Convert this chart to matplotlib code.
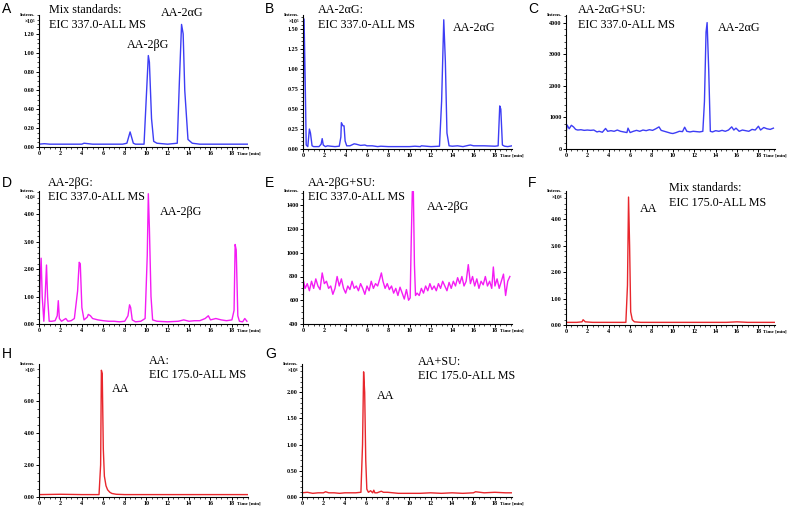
import matplotlib
matplotlib.use('Agg')
import matplotlib.pyplot as plt
from matplotlib.ticker import MultipleLocator, FormatStrFormatter

# ---- data ----
# A: mix standards, EIC 337 (x1e5)
a_t = [0, 0.5, 1, 2, 3, 4, 4.2, 5, 6, 7, 7.8, 8.2, 8.4, 8.5, 8.6, 8.8, 9, 9.8, 10.0, 10.2,
       10.3, 10.5, 10.7, 11, 12, 12.9, 13.1, 13.3, 13.45, 13.6, 13.9, 14.3, 15, 16, 17, 18, 19, 19.5]
a_v = [0.03, 0.035, 0.03, 0.03, 0.03, 0.03, 0.04, 0.03, 0.03, 0.03, 0.03, 0.04, 0.12, 0.16, 0.12, 0.04, 0.03, 0.03, 0.5, 0.97,
       0.9, 0.3, 0.06, 0.04, 0.03, 0.04, 0.7, 1.30, 1.2, 0.6, 0.08, 0.04, 0.03, 0.03, 0.03, 0.03, 0.03, 0.03]
a_ticks = [0, 0.2, 0.4, 0.6, 0.8, 1.0, 1.2]

# B: AA-2aG, EIC 337 (x1e5)
b_t = [0, 0.05, 0.1, 0.2, 0.3, 0.45, 0.6, 0.7, 0.85, 1.0, 1.5, 1.7, 1.8, 1.9, 2.1, 2.3, 2.6, 3.0, 3.4, 3.55,
       3.6, 3.75, 3.85, 3.95, 4.1, 4.4, 4.8, 5.0, 5.4, 5.8, 6.0, 6.5, 7.0, 7.3, 8, 9, 10, 10.5, 11, 11.1,
       12, 12.8, 13.0, 13.2, 13.35, 13.5, 13.7, 14, 14.5, 15, 15.5, 15.7, 16, 17, 18, 18.3, 18.45, 18.55, 18.7, 18.9,
       19.2, 19.6]
b_v = [0.05, 1.0, 1.63, 0.9, 0.05, 0.03, 0.25, 0.2, 0.04, 0.03, 0.03, 0.06, 0.13, 0.05, 0.03, 0.04, 0.035, 0.03, 0.035, 0.15,
       0.33, 0.29, 0.29, 0.1, 0.04, 0.04, 0.065, 0.06, 0.045, 0.05, 0.04, 0.04, 0.03, 0.035, 0.03, 0.03, 0.03, 0.035, 0.03, 0.04,
       0.03, 0.035, 0.6, 1.62, 1.1, 0.2, 0.04, 0.035, 0.04, 0.03, 0.045, 0.05, 0.04, 0.04, 0.035, 0.04, 0.54, 0.5, 0.05, 0.035,
       0.03, 0.04]
b_ticks = [0, 0.25, 0.5, 0.75, 1.0, 1.25, 1.5]

# C: AA-2aG + SU, EIC 337 (counts)
c_t = [0.0, 0.1, 0.3, 0.5, 0.7, 0.9, 1.1, 1.4, 1.7, 2.0, 2.3, 2.6, 2.9, 3.1, 3.4, 3.7, 3.9, 4.2, 4.5, 4.8,
       5.1, 5.4, 5.7, 5.8, 6.0, 6.3, 6.6, 6.9, 7.2, 7.5, 7.8, 8.1, 8.4, 8.7, 8.9, 9.2, 9.5, 9.8, 10.0, 10.3,
       10.6, 10.9, 11.1, 11.3, 11.6, 11.9, 12.2, 12.5, 12.8, 12.95, 13.1, 13.2, 13.35, 13.5, 13.7, 14.0, 14.3, 14.6, 14.9, 15.2,
       15.5, 15.7, 15.9, 16.2, 16.5, 16.8, 17.1, 17.4, 17.7, 18.0, 18.2, 18.5, 18.8, 19.1, 19.4]
c_v = [480, 760, 640, 750, 700, 620, 600, 610, 590, 600, 590, 600, 540, 560, 530, 650, 560, 580, 560, 600,
       560, 540, 520, 660, 520, 560, 590, 560, 600, 580, 610, 590, 640, 700, 590, 560, 530, 500, 490, 520,
       560, 550, 690, 560, 540, 560, 550, 540, 560, 1500, 3700, 4000, 2500, 560, 540, 580, 560, 590, 560, 600,
       700, 600, 660, 560, 600, 580, 560, 620, 600, 720, 600, 680, 640, 620, 660]
c_ticks = [0, 1000, 2000, 3000, 4000]

# D: AA-2bG, EIC 337 (x1e4)
d_t = [0, 0.1, 0.2, 0.3, 0.45, 0.55, 0.7, 0.8, 0.95, 1.2, 1.5, 1.7, 1.8, 1.9, 2.1, 2.5, 2.7, 3.0, 3.3, 3.6,
       3.75, 3.85, 4.0, 4.2, 4.5, 4.6, 4.8, 5.0, 5.5, 6.0, 6.5, 7.0, 7.5, 8.0, 8.3, 8.45, 8.55, 8.7, 9.0, 9.5,
       9.9, 10.1, 10.2, 10.3, 10.45, 10.6, 11, 12, 13, 13.5, 14, 14.5, 15, 15.5, 15.8, 16, 16.5, 17, 17.5, 18,
       18.2, 18.3, 18.4, 18.55, 18.7, 19.0, 19.2, 19.4]
d_v = [0.05, 1.5, 2.4, 1.0, 0.1, 0.8, 2.15, 1.0, 0.1, 0.1, 0.12, 0.3, 0.85, 0.2, 0.1, 0.2, 0.1, 0.12, 0.2, 1.2,
       2.25, 2.2, 0.6, 0.15, 0.25, 0.35, 0.3, 0.2, 0.15, 0.12, 0.1, 0.1, 0.08, 0.1, 0.3, 0.7, 0.6, 0.15, 0.08, 0.1,
       0.2, 2.5, 4.75, 3.5, 1.0, 0.15, 0.1, 0.08, 0.1, 0.15, 0.1, 0.12, 0.12, 0.2, 0.3, 0.15, 0.2, 0.15, 0.12, 0.15,
       0.5, 2.9, 2.7, 0.3, 0.1, 0.08, 0.2, 0.1]
d_ticks = [0, 1, 2, 3, 4]

# E: AA-2bG + SU, EIC 337 (counts)
e_t = [0.0, 0.05, 0.2, 0.4, 0.6, 0.8, 1.0, 1.2, 1.4, 1.6,
       1.8, 2.0, 2.2, 2.4, 2.6, 2.8, 3.0, 3.2, 3.4, 3.6,
       3.8, 4.0, 4.2, 4.4, 4.6, 4.8, 5.0, 5.2, 5.4, 5.6,
       5.8, 6.0, 6.2, 6.4, 6.6, 6.8, 7.0, 7.2, 7.35, 7.5,
       7.7, 7.9, 8.1, 8.3, 8.5, 8.7, 8.9, 9.1, 9.3, 9.5,
       9.7, 9.9, 10.05, 10.15, 10.25, 10.35, 10.45, 10.55, 10.7, 10.9,
       11.1, 11.3, 11.5, 11.7, 11.9, 12.1, 12.3, 12.5, 12.7, 12.9,
       13.1, 13.3, 13.5, 13.7, 13.9, 14.1, 14.3, 14.5, 14.7, 14.9,
       15.1, 15.3, 15.5, 15.7, 15.9, 16.1, 16.3, 16.5, 16.7, 16.9,
       17.1, 17.3, 17.5, 17.7, 17.85, 18.0, 18.2, 18.4, 18.6, 18.8,
       19.0, 19.2, 19.4]
e_v = [450, 760, 700, 740, 680, 760, 700, 780, 720, 690,
       830, 740, 760, 700, 720, 650, 700, 800, 720, 780,
       700, 660, 720, 690, 760, 700, 720, 680, 740, 700,
       650, 720, 680, 760, 700, 740, 720, 780, 830, 760,
       700, 740, 690, 720, 660, 700, 640, 710, 660, 610,
       690, 600, 620, 1100, 1515, 1515, 900, 640, 660, 640,
       700, 660, 720, 680, 740, 690, 720, 680, 740, 700,
       760, 720, 680, 750, 700, 760, 720, 790, 740, 800,
       720, 760, 900, 740, 800, 720, 780, 700, 760, 730,
       800, 720, 760, 700, 880, 720, 780, 700, 760, 820,
       640, 760, 800]
e_ticks = [400, 600, 800, 1000, 1200, 1400]

# F: mix standards, EIC 175
f_t = [0, 1, 1.5, 1.6, 1.8, 2.5, 3, 4, 5, 5.6, 5.75, 5.85, 5.95, 6.05, 6.2,
       6.4, 7, 8, 9, 10, 11, 12, 13, 14, 15, 16, 17, 18, 19, 19.5]
f_v = [0.1, 0.1, 0.12, 0.2, 0.12, 0.1, 0.1, 0.1, 0.1, 0.1, 1.5, 4.85, 3.0, 0.5, 0.2,
       0.12, 0.1, 0.1, 0.1, 0.1, 0.1, 0.1, 0.1, 0.1, 0.1, 0.12, 0.1, 0.1, 0.1, 0.1]
f_ticks = [0, 1, 2, 3, 4]

# H: AA, EIC 175
h_t = [0, 2, 4, 5, 5.6, 5.75, 5.82, 5.9, 6.0, 6.1, 6.25, 6.4, 6.6, 6.8, 7.2, 8, 10, 12, 14, 16, 18, 19.5]
h_v = [0.15, 0.17, 0.15, 0.15, 0.15, 2.0, 7.9, 7.7, 3.0, 1.3, 0.7, 0.45, 0.3, 0.22, 0.17, 0.15, 0.15, 0.15,
       0.15, 0.15, 0.15, 0.15]
h_ticks = [0, 2, 4, 6]

# G: AA + SU, EIC 175
g_t = [0, 0.5, 1, 1.5, 2, 2.2, 2.5, 3, 3.5, 4, 4.5, 5, 5.5, 5.65, 5.75, 5.85, 5.95, 6.05, 6.2, 6.4,
       6.6, 6.7, 6.8, 7, 7.4, 7.6, 8, 8.5, 9, 10, 11, 12, 13, 14, 15, 16, 16.2, 17, 18, 19, 19.6]
g_v = [0.08, 0.09, 0.07, 0.08, 0.08, 0.1, 0.08, 0.08, 0.07, 0.08, 0.08, 0.08, 0.09, 1.0, 2.39, 2.0, 0.7, 0.15, 0.09, 0.12,
       0.08, 0.13, 0.08, 0.08, 0.11, 0.09, 0.09, 0.08, 0.07, 0.07, 0.07, 0.08, 0.07, 0.08, 0.07, 0.08, 0.1, 0.08, 0.09, 0.08, 0.08]
g_ticks = [0, 0.5, 1.0, 1.5, 2.0]

BLUE = '#3d3df5'
MAGENTA = '#f41cf4'
RED = '#e8262c'

W, H = 789, 508
fig = plt.figure(figsize=(W / 100, H / 100), dpi=100)
SERIF = ['Liberation Serif', 'DejaVu Serif']


def px_rect(l, t, r, b):
    return [l / W, 1 - b / H, (r - l) / W, (b - t) / H]


def chrom(rect, t, v, color, xmax, ylim, yticks, minor, fmt, expo):
    ax = fig.add_axes(px_rect(*rect))
    ax.plot(t, v, color=color, lw=1.0)
    ax.set_xlim(0, xmax)
    ax.set_ylim(*ylim)
    ax.spines['top'].set_visible(False)
    ax.spines['right'].set_visible(False)
    ax.spines['left'].set_linewidth(0.8)
    ax.spines['bottom'].set_linewidth(0.8)
    ax.set_xticks(range(0, 19, 2))
    ax.xaxis.set_minor_locator(MultipleLocator(0.5))
    ax.set_yticks(yticks)
    ax.yaxis.set_minor_locator(MultipleLocator(minor))
    ax.yaxis.set_major_formatter(FormatStrFormatter(fmt))
    ax.tick_params(which='major', length=2.2, width=0.7, labelsize=4.4, pad=1)
    ax.tick_params(which='minor', length=1.1, width=0.5)
    for lab in ax.get_xticklabels() + ax.get_yticklabels():
        lab.set_fontweight('bold')
        lab.set_family(SERIF)
    ax.annotate('Time [min]', xy=(18, 0), xycoords=('data', 'axes fraction'),
                xytext=(3.6, -3.4), textcoords='offset points', ha='left', va='top',
                fontsize=3.6, fontweight='bold', family=SERIF)
    ax.annotate('Intens.', xy=(0, 1), xycoords='axes fraction', xytext=(-2.5, 0),
                textcoords='offset points', ha='right', va='center',
                fontsize=3.8, fontweight='bold', family=SERIF)
    if expo:
        ax.annotate('×10' + expo, xy=(0, 1), xycoords='axes fraction', xytext=(-2.5, -4.5),
                    textcoords='offset points', ha='right', va='center',
                    fontsize=4.0, fontweight='bold', family=SERIF)
    return ax


chrom((39, 15, 248, 147), a_t, a_v, BLUE, 19.5, (0, 1.40), a_ticks, 0.05, '%.2f', '⁵')
chrom((303, 15, 512, 149), b_t, b_v, BLUE, 19.6, (0, 1.68), b_ticks, 0.05, '%.2f', '⁵')
chrom((566, 15, 775, 149), c_t, c_v, BLUE, 19.55, (0, 4240), c_ticks, 200, '%d', None)
chrom((39, 191, 248, 324), d_t, d_v, MAGENTA, 19.5, (0, 4.85), d_ticks, 0.2, '%.2f', '⁴')
chrom((303, 191, 512, 324), e_t, e_v, MAGENTA, 19.6, (400, 1520), e_ticks, 50, '%d', None)
chrom((566, 191, 775, 325), f_t, f_v, RED, 19.55, (0, 5.08), f_ticks, 0.2, '%.2f', '⁶')
chrom((39, 364, 248, 497), h_t, h_v, RED, 19.5, (0, 8.29), h_ticks, 0.5, '%.2f', '⁵')
chrom((302, 364, 512, 497), g_t, g_v, RED, 19.6, (0, 2.54), g_ticks, 0.1, '%.2f', '⁶')


def ftext(x, y, s, **kw):
    fig.text(x / W, 1 - y / H, s, va='center', **kw)


# panel letters
for letter, x, y in [('A', 2, 9), ('B', 265, 9), ('C', 528, 9),
                     ('D', 2, 183), ('E', 265, 183), ('F', 528, 183),
                     ('H', 2, 354), ('G', 265, 354)]:
    ftext(x, y, letter, fontsize=10, family=['Liberation Sans', 'DejaVu Sans'])

# sample / trace headers
for line1, line2, x, y1, y2 in [('Mix standards:', 'EIC 337.0-ALL MS', 49, 10, 25),
                                ('AA-2αG:', 'EIC 337.0-ALL MS', 318, 10, 25),
                                ('AA-2αG+SU:', 'EIC 337.0-ALL MS', 578, 10, 25),
                                ('AA-2βG:', 'EIC 337.0-ALL MS', 48, 183, 197),
                                ('AA-2βG+SU:', 'EIC 337.0-ALL MS', 308, 183, 197),
                                ('Mix standards:', 'EIC 175.0-ALL MS', 669, 188, 203),
                                ('AA:', 'EIC 175.0-ALL MS', 149, 361, 375),
                                ('AA+SU:', 'EIC 175.0-ALL MS', 418, 362, 376)]:
    ftext(x, y1, line1, fontsize=8.7, family=SERIF)
    ftext(x, y2, line2, fontsize=8.7, family=SERIF)

# peak names
for name, x, y in [('AA-2βG', 127, 45), ('AA-2αG', 161, 13), ('AA-2αG', 453, 28),
                   ('AA-2αG', 718, 28), ('AA-2βG', 160, 212), ('AA-2βG', 427, 207),
                   ('AA', 640, 209), ('AA', 112, 389), ('AA', 377, 396)]:
    ftext(x, y, name, fontsize=8.7, family=SERIF)

fig.savefig('out.png', dpi=100, facecolor='white')
